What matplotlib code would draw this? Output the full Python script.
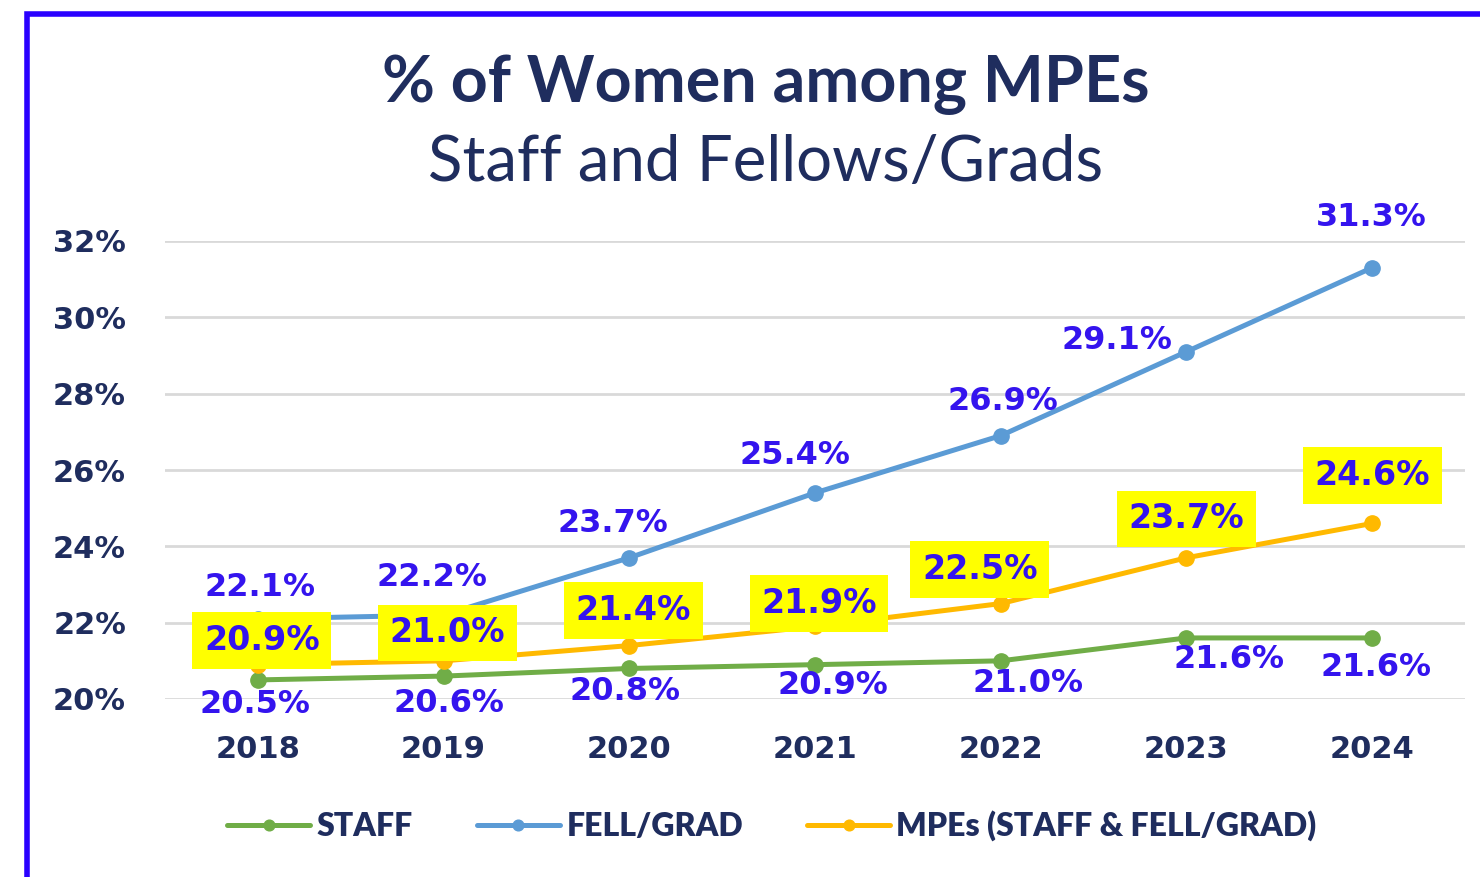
import matplotlib.pyplot as plt
from matplotlib.patches import Rectangle

years = ['2018', '2019', '2020', '2021', '2022', '2023', '2024']
staff = [20.5, 20.6, 20.8, 20.9, 21.0, 21.6, 21.6]
fell_grad = [22.1, 22.2, 23.7, 25.4, 26.9, 29.1, 31.3]
mpes = [20.9, 21.0, 21.4, 21.9, 22.5, 23.7, 24.6]
yticks = [20, 22, 24, 26, 28, 30, 32]

# label offsets in pixels (dx, dy) from each point
off_staff = [(-3, -25), (5, -27), (-4, -23), (18, -21), (27, -23), (43, -22), (4, -30)]
off_fell = [(2, 31), (-12, 38), (-16, 34), (-20, 37), (2, 34), (-69, 11), (-1, 50)]
off_mpes = [(4, 24), (4, 28), (4, 35), (4, 23), (-21, 34), (0, 39), (0, 48)]

navy = '#1f2d5e'
lab = '#3414ee'
c_staff, c_fell, c_mpes = '#70ad47', '#5b9bd5', '#ffb900'

fig = plt.figure(figsize=(14.8, 8.77), dpi=100)
ax = fig.add_axes([165 / 1480, 1 - 699 / 877, 1300 / 1480, 458 / 877])

x = range(len(years))
for vals, col, name in [(staff, c_staff, 'STAFF'), (fell_grad, c_fell, 'FELL/GRAD'),
                        (mpes, c_mpes, 'MPEs (STAFF & FELL/GRAD)')]:
    ax.plot(x, vals, color=col, lw=3.6, marker='o', ms=11, label=name, zorder=3,
            solid_capstyle='round')

for i in x:
    ax.annotate(f'{fell_grad[i]:.1f}%', (i, fell_grad[i]), xytext=off_fell[i],
                textcoords='offset pixels', ha='center', va='center',
                fontsize=23, fontweight='bold', color=lab, zorder=5)
    ax.annotate(f'{staff[i]:.1f}%', (i, staff[i]), xytext=off_staff[i],
                textcoords='offset pixels', ha='center', va='center',
                fontsize=23, fontweight='bold', color=lab, zorder=5)
    ax.annotate(f'{mpes[i]:.1f}%', (i, mpes[i]), xytext=off_mpes[i],
                textcoords='offset pixels', ha='center', va='center',
                fontsize=24, fontweight='bold', color=lab, zorder=6,
                bbox=dict(boxstyle='square,pad=0.35', fc='#ffff00', ec='none'))

ax.set_xlim(-0.5, 6.5)
ax.set_ylim(20, 32)
ax.set_yticks(yticks)
ax.set_yticklabels([f'{v}%' for v in yticks])
ax.set_xticks(list(x))
ax.set_xticklabels(years)
ax.grid(axis='y', color='#d9d9d9', lw=2, zorder=0)
for s in ax.spines.values():
    s.set_visible(False)
ax.tick_params(length=0, labelsize=22, labelcolor=navy)
ax.tick_params(axis='y', pad=28)
ax.tick_params(axis='x', pad=26)
for t in ax.get_xticklabels() + ax.get_yticklabels():
    t.set_fontweight('bold')

title = fig.text(766 / 1480, 1 - 85 / 877, '% of Women among MPEs', ha='center', va='center',
                 fontsize=40, fontweight='bold', color=navy, family='Lato')
sub = fig.text(766 / 1480, 1 - 163 / 877, 'Staff and Fellows/Grads', ha='center', va='center',
               fontsize=40, color=navy, family='Lato')

# scale title fonts to the reference widths
r = fig.canvas.get_renderer()
for t, w in [(title, 767), (sub, 675)]:
    t.set_fontsize(t.get_fontsize() * w / t.get_window_extent(r).width)

fig.legend(loc='center', bbox_to_anchor=(772 / 1480, 1 - 826 / 877), ncol=3, frameon=False,
           prop={'family': 'Lato', 'weight': 'heavy', 'size': 23},
           labelcolor=navy, handlelength=2.6, handletextpad=0.2, columnspacing=2.0,
           markerscale=0.7)

fig.patches.append(Rectangle((27 / 1480, -0.002), 1.0, 1 - 14 / 877 + 0.002,
                             transform=fig.transFigure,
                             fill=False, ec='#2a00ff', lw=4, clip_on=False))

fig.savefig('out.png', dpi=100)
